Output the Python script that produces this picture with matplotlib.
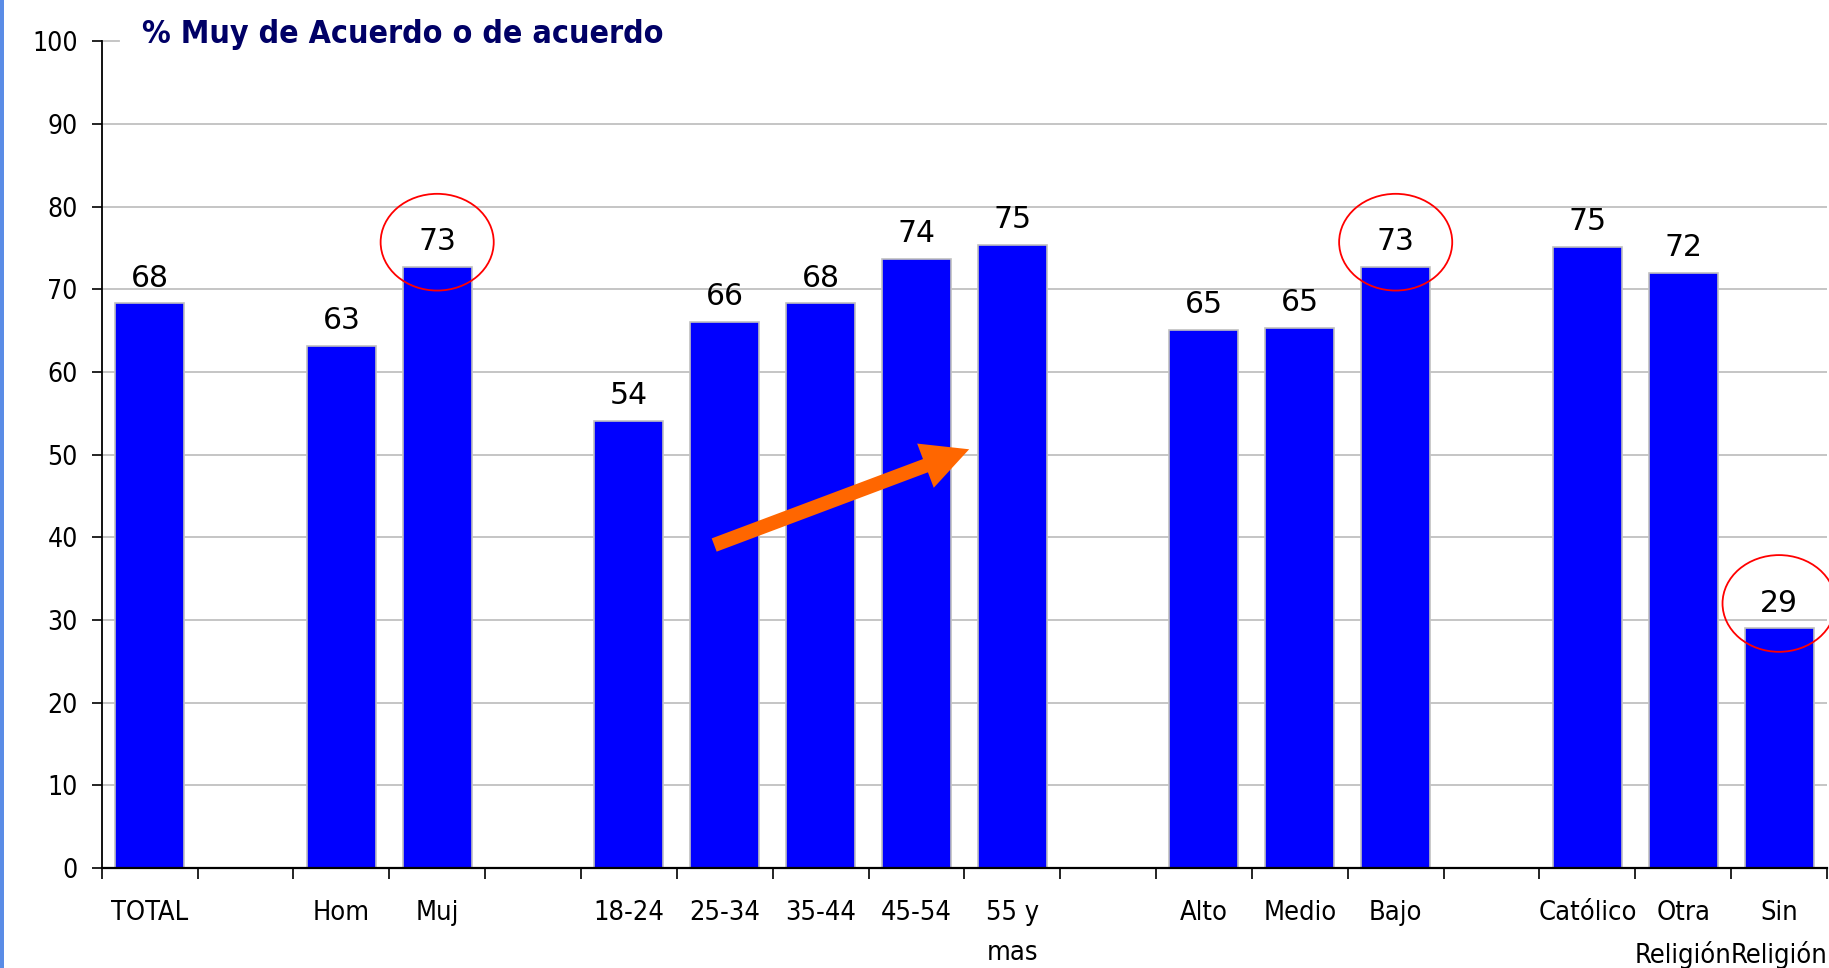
import matplotlib
matplotlib.use("Agg")
import matplotlib.pyplot as plt
from matplotlib.patches import Ellipse, Rectangle
import numpy as np

# slots along the x axis, "" = empty gap between groups
categories = ["TOTAL", "", "Hom", "Muj", "", "18-24", "25-34", "35-44", "45-54", "55 y\nmas",
              "", "Alto", "Medio", "Bajo", "", "Católico", "Otra\nReligión", "Sin\nReligión"]
values = [68.3, None, 63.2, 72.7, None, 54.1, 66.1, 68.3, 73.7, 75.4,
          None, 65.1, 65.3, 72.7, None, 75.1, 72.0, 29.0]
circled = ["Muj", "Bajo", "Sin\nReligión"]
title = "% Muy de Acuerdo o de acuerdo"

bar_color = "#0000FF"
edge_color = "#C0C0C0"

fig = plt.figure(figsize=(18.29, 9.68), dpi=100)
ax = fig.add_axes([101.7 / 1829, 1 - 868 / 968, (1827 - 101.7) / 1829, (868 - 41.3) / 968])

x = np.arange(len(categories))
has_val = [v is not None for v in values]
xs = x[has_val]
vs = np.array([v for v in values if v is not None])

ax.bar(xs, vs, width=0.72, color=bar_color, edgecolor=edge_color, linewidth=1.2, zorder=2)

# value labels
for xi, v in zip(xs, vs):
    ax.annotate(f"{int(round(v))}", xy=(xi, v), xytext=(0, 12), textcoords="offset points",
                ha="center", va="baseline", fontsize=21.5, family="DejaVu Sans", color="black", zorder=4)

# red ellipses around highlighted values
for name in circled:
    i = categories.index(name)
    ax.add_patch(Ellipse((i, values[i] + 3.0), width=1.18, height=11.7, fill=False,
                         edgecolor="#FF0000", linewidth=1.3, zorder=5, clip_on=False))

# orange arrow over the age group
ax.annotate("", xy=(8.55, 50.65), xytext=(5.89, 39.07),
            arrowprops=dict(arrowstyle="simple,head_length=3.36,head_width=3.4,tail_width=1.02",
                            mutation_scale=10, color="#FF6600", lw=0, shrinkA=0, shrinkB=0),
            zorder=6)

ax.set_xlim(-0.5, len(categories) - 0.5)
ax.set_ylim(0, 100)

# gridlines (10..90), stub at 100
for g in range(10, 100, 10):
    ax.axhline(g, color=edge_color, linewidth=1.3, zorder=1)
ax.plot([-0.5, -0.32], [100, 100], color=edge_color, linewidth=1.3, zorder=1, clip_on=False)

ax.set_yticks(np.arange(0, 101, 10))
ax.set_yticklabels([str(t) for t in range(0, 101, 10)], fontsize=19,
                   family="DejaVu Sans", fontstretch="condensed")
ax.tick_params(axis="y", direction="out", length=7.2, width=1.2, pad=10)

ax.set_xticks(np.arange(-0.5, len(categories), 1.0))
ax.set_xticklabels([])
ax.tick_params(axis="x", which="major", direction="out", length=7.7, width=1.2)
ax.set_xticks(x, minor=True)
ax.set_xticklabels(categories, minor=True, fontsize=19.5, family="DejaVu Sans",
                   fontstretch="condensed", linespacing=1.7, va="top")
ax.tick_params(axis="x", which="minor", length=0, pad=23)

for s in ["top", "right"]:
    ax.spines[s].set_visible(False)
ax.spines["left"].set_linewidth(1.3)
ax.spines["bottom"].set_linewidth(1.6)

fig.text(142 / 1829, 1 - 42.7 / 968, title, ha="left", va="baseline", fontsize=23,
         fontweight="bold", family="DejaVu Sans", fontstretch="condensed", color="#000066")

# blue strip on the left border
fig.patches.append(Rectangle((0, 0), 4 / 1829, 1, transform=fig.transFigure,
                             facecolor="#5A8CE6", edgecolor="none"))

plt.savefig("out.png", dpi=100)
plt.close()
